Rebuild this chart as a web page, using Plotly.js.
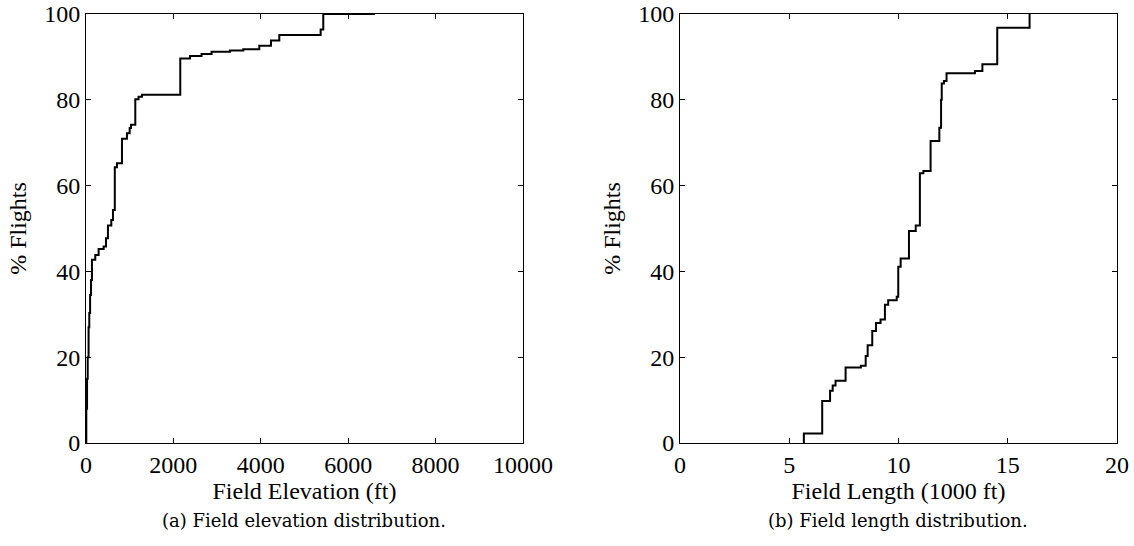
<!DOCTYPE html>
<html>
<head>
<meta charset="utf-8">
<script src="https://cdn.plot.ly/plotly-3.0.1.min.js"></script>
<style>html,body{margin:0;padding:0;background:#fff;}#chart{width:1134px;height:546px;}</style>
</head>
<body>
<div id="chart"></div>
<script>
// (a) Field elevation distribution: step points (ft, % flights)
const elevationFt = [0, 8, 25, 40, 60, 76, 95, 115, 137, 213, 290, 405, 458, 503, 580, 618, 660, 709, 824, 938, 1000, 1030, 1129, 1203, 1281, 2158, 2380, 2645, 2874, 3295, 3600, 3966, 4233, 4424, 5370, 5430, 6610];
const elevationPct = [0, 8, 15, 20, 27, 30.3, 34.5, 38, 42.7, 43.8, 45.2, 45.8, 47.7, 50.7, 52, 54.3, 64.3, 65.2, 70.9, 72.2, 73.4, 74.2, 80.1, 80.7, 81.2, 89.6, 90.2, 90.7, 91.2, 91.5, 91.8, 92.6, 93.8, 95.1, 96.4, 100, 100];

// (b) Field length distribution: step points (1000 ft, % flights)
const lengthKft = [5.67, 5.67, 6.51, 6.87, 6.99, 7.12, 7.58, 8.28, 8.5, 8.59, 8.8, 8.97, 9.18, 9.38, 9.53, 9.92, 9.99, 10.1, 10.48, 10.79, 10.98, 11.14, 11.47, 11.87, 11.95, 11.98, 12.08, 12.2, 13.5, 13.84, 14.52, 16.0];
const lengthPct = [0, 2.2, 9.8, 12.2, 13.4, 14.5, 17.6, 18.0, 20.3, 22.8, 26.1, 28.0, 28.8, 32.2, 33.3, 34.1, 41.1, 43.0, 49.4, 50.7, 62.9, 63.4, 70.4, 73.5, 80.0, 83.8, 84.4, 86.2, 86.7, 88.3, 96.8, 100];

const xTicksA = [0, 2000, 4000, 6000, 8000, 10000];
const xTicksB = [0, 5, 10, 15, 20];
const yTicks = [0, 20, 40, 60, 80, 100];

const axisFont = {family: 'Liberation Serif, Times New Roman, serif', size: 24, color: '#000'};

const traces = [
  {x: elevationFt, y: elevationPct, type: 'scatter', mode: 'lines', line: {shape: 'hv', color: '#000', width: 2}, xaxis: 'x', yaxis: 'y', hoverinfo: 'x+y'},
  {x: lengthKft, y: lengthPct, type: 'scatter', mode: 'lines', line: {shape: 'hv', color: '#000', width: 2}, xaxis: 'x2', yaxis: 'y2', hoverinfo: 'x+y'}
];

function xax(domain, range, ticks, title, anchor) {
  return {
    domain: domain, range: range, tickvals: ticks, ticktext: ticks.map(String),
    showgrid: false, zeroline: false, showline: true, linecolor: '#000', linewidth: 1,
    mirror: 'allticks', ticks: 'inside', ticklen: 5, tickcolor: '#000', tickwidth: 1,
    tickfont: axisFont, anchor: anchor,
    title: {text: title, font: axisFont, standoff: 0}
  };
}
function yax(anchor) {
  return {
    domain: [0.1886, 0.9744], range: [0, 100], tickvals: yTicks, ticktext: yTicks.map(String),
    showgrid: false, zeroline: false, showline: true, linecolor: '#000', linewidth: 1,
    mirror: 'allticks', ticks: 'inside', ticklen: 5, tickcolor: '#000', tickwidth: 1,
    tickfont: axisFont, anchor: anchor,
    title: {text: '% Flights', font: axisFont, standoff: 10}
  };
}

const capFont = {family: 'DejaVu Serif, serif', size: 18, color: '#000'};

const layout = {
  width: 1134, height: 546,
  margin: {l: 0, r: 0, t: 0, b: 0},
  paper_bgcolor: '#fff', plot_bgcolor: '#fff',
  showlegend: false,
  xaxis: xax([0.0758, 0.4612], [0, 10000], xTicksA, 'Field Elevation (ft)', 'y'),
  yaxis: yax('x'),
  xaxis2: xax([0.5996, 0.9850], [0, 20], xTicksB, 'Field Length (1000 ft)', 'y2'),
  yaxis2: yax('x2'),
  annotations: [
    {text: '(a) Field elevation distribution.', xref: 'paper', yref: 'paper', x: (0.0758 + 0.4612) / 2, y: 1 - 520 / 546, xanchor: 'center', yanchor: 'middle', showarrow: false, font: capFont},
    {text: '(b) Field length distribution.', xref: 'paper', yref: 'paper', x: (0.5996 + 0.9850) / 2, y: 1 - 520 / 546, xanchor: 'center', yanchor: 'middle', showarrow: false, font: capFont}
  ]
};

Plotly.newPlot('chart', traces, layout, {staticPlot: true, displayModeBar: false});
</script>
</body>
</html>
